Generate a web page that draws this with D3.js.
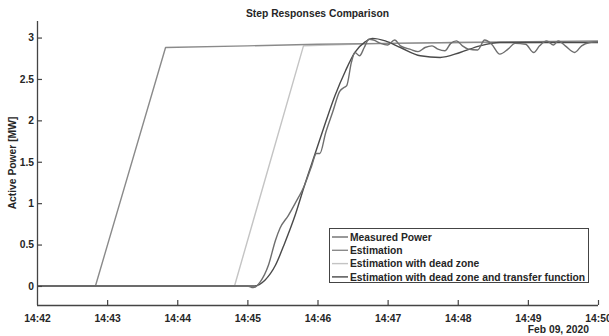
<!DOCTYPE html>
<html>
<head>
<meta charset="utf-8">
<script src="https://cdn.jsdelivr.net/npm/d3@7/dist/d3.min.js"></script>
<style>
  html, body { margin: 0; padding: 0; background: #fff; }
  svg { display: block; }
  text { font-family: "Liberation Sans", Arial, Helvetica, sans-serif; font-weight: bold; fill: #262626; }
</style>
</head>
<body>
<svg id="chart" width="609" height="336"></svg>
<script>
// Step responses recorded on Feb 09, 2020 (time of day, active power in MW)
const day = "2020-02-09";

const measuredTimes = ["14:42:00","14:45:00","14:45:05","14:45:11","14:45:18","14:45:24","14:45:28","14:45:35","14:45:41","14:45:49","14:45:55","14:45:59","14:46:02","14:46:07","14:46:13","14:46:19","14:46:23","14:46:25","14:46:29","14:46:32","14:46:36","14:46:40","14:46:44","14:46:48","14:46:54","14:47:00","14:47:06","14:47:11","14:47:19","14:47:26","14:47:32","14:47:38","14:47:43","14:47:49","14:47:54","14:47:59","14:48:04","14:48:09","14:48:17","14:48:23","14:48:29","14:48:36","14:48:43","14:48:49","14:48:58","14:49:05","14:49:10","14:49:16","14:49:22","14:49:26","14:49:32","14:49:40","14:49:46","14:49:53","14:50:00"];
const measuredPower = [0,0,-0.02,0.05,0.25,0.55,0.7,0.85,1.0,1.22,1.45,1.6,1.6,1.85,2.1,2.35,2.4,2.42,2.7,2.82,2.78,2.88,2.98,2.97,2.93,2.91,2.97,2.9,2.86,2.83,2.88,2.9,2.86,2.84,2.93,2.96,2.9,2.86,2.85,2.97,2.92,2.8,2.86,2.93,2.92,2.82,2.9,2.96,2.91,2.96,2.9,2.82,2.9,2.94,2.95];

const estTimes = ["14:42:00","14:42:50","14:43:50","14:45:00","14:46:00","14:47:00","14:48:00","14:49:00","14:50:00"];
const estPower = [0,0,2.88,2.9,2.92,2.93,2.94,2.95,2.96];

const deadZoneTimes = ["14:42:00","14:44:49","14:45:48","14:46:30","14:47:00","14:48:00","14:49:00","14:50:00"];
const deadZonePower = [0,0,2.9,2.92,2.93,2.94,2.94,2.95];

const tfTimes = ["14:42:00","14:45:06","14:45:15","14:45:24","14:45:32","14:45:41","14:45:49","14:45:58","14:46:07","14:46:15","14:46:24","14:46:32","14:46:41","14:46:47","14:46:58","14:47:11","14:47:28","14:47:45","14:48:02","14:48:19","14:48:36","14:49:02","14:50:00"];
const tfPower = [0,0,0.07,0.25,0.52,0.86,1.22,1.6,1.98,2.3,2.6,2.82,2.95,2.99,2.96,2.88,2.78,2.76,2.82,2.9,2.94,2.94,2.94];

const seriesNames = ["Measured Power","Estimation","Estimation with dead zone","Estimation with dead zone and transfer function"];
const seriesColors = ["#6e6e6e","#8a8a8a","#c4c4c4","#4a4a4a"];

const yTicks = [0,0.5,1,1.5,2,2.5,3];
const xTickLabels = ["14:42","14:43","14:44","14:45","14:46","14:47","14:48","14:49","14:50"];

const parse = d3.timeParse("%Y-%m-%d %H:%M:%S");
const toDate = t => parse(day + " " + t);
const zip = (ts, vs) => ts.map((t, i) => ({ t: toDate(t), v: vs[i] }));

const series = [
  zip(measuredTimes, measuredPower),
  zip(estTimes, estPower),
  zip(deadZoneTimes, deadZonePower),
  zip(tfTimes, tfPower)
];

const svg = d3.select("#chart");
const plot = { left: 37, right: 598, top: 21, bottom: 305 };
const fontSize = "10.3px";

const x = d3.scaleTime()
  .domain([toDate("14:42:00"), toDate("14:50:00")])
  .range([plot.left, plot.right]);
const y = d3.scaleLinear().domain([-0.23, 3.2]).range([plot.bottom, plot.top]);

// curves
const drawOrder = [2, 1, 3, 0];
drawOrder.forEach(i => {
  const line = d3.line()
    .x(d => x(d.t)).y(d => y(d.v))
    .curve(i === 0 || i === 3 ? d3.curveMonotoneX : d3.curveLinear);
  svg.append("path")
    .datum(series[i])
    .attr("fill", "none")
    .attr("stroke", seriesColors[i])
    .attr("stroke-width", 1.4)
    .attr("stroke-linejoin", "round")
    .attr("d", line);
});

// axes (ticks drawn inward)
const xTickDates = xTickLabels.map(s => toDate(s + ":00"));
const xAxis = d3.axisBottom(x)
  .tickValues(xTickDates)
  .tickFormat((d, i) => xTickLabels[i])
  .tickSizeInner(-5).tickSizeOuter(0).tickPadding(10);
const gx = svg.append("g").attr("transform", `translate(0,${plot.bottom})`).call(xAxis);

const yAxis = d3.axisLeft(y)
  .tickValues(yTicks)
  .tickFormat(d3.format("~g"))
  .tickSizeInner(-5).tickSizeOuter(0).tickPadding(3);
const gy = svg.append("g").attr("transform", `translate(${plot.left},0)`).call(yAxis);

gx.select(".domain").attr("d", `M${plot.left},0.5H${plot.right}`);
gy.select(".domain").attr("d", `M0.5,${plot.top}V${plot.bottom}`);
[gx, gy].forEach(g => {
  g.select(".domain").attr("stroke", "#444").attr("stroke-width", 1.3);
  g.selectAll(".tick line").attr("stroke", "#444").attr("stroke-width", 1.2);
  g.selectAll(".tick text").style("font-size", fontSize).attr("fill", "#262626");
});
gx.selectAll(".tick").filter((d, i) => i === 0).select("line").remove();

// date stamp under the time axis
svg.append("text")
  .attr("x", 589).attr("y", 333)
  .attr("text-anchor", "end")
  .style("font-size", fontSize)
  .text("Feb 09, 2020");

// title
svg.append("text")
  .attr("x", (plot.left + plot.right) / 2).attr("y", 17)
  .attr("text-anchor", "middle")
  .style("font-size", fontSize)
  .text("Step Responses Comparison");

// y label
svg.append("text")
  .attr("transform", `translate(16,${(plot.top + plot.bottom) / 2}) rotate(-90)`)
  .attr("text-anchor", "middle")
  .style("font-size", fontSize)
  .text("Active Power [MW]");

// legend
const lg = svg.append("g");
lg.append("rect")
  .attr("x", 329.5).attr("y", 228.5).attr("width", 259).attr("height", 54)
  .attr("fill", "#fff").attr("stroke", "#444").attr("stroke-width", 1);
seriesNames.forEach((name, i) => {
  const yy = 237 + i * 13.3;
  lg.append("line")
    .attr("x1", 332).attr("x2", 348).attr("y1", yy).attr("y2", yy)
    .attr("stroke", seriesColors[i]).attr("stroke-width", 1.4);
  lg.append("text")
    .attr("x", 350).attr("y", yy + 3.7)
    .style("font-size", fontSize)
    .text(name);
});
</script>
</body>
</html>
